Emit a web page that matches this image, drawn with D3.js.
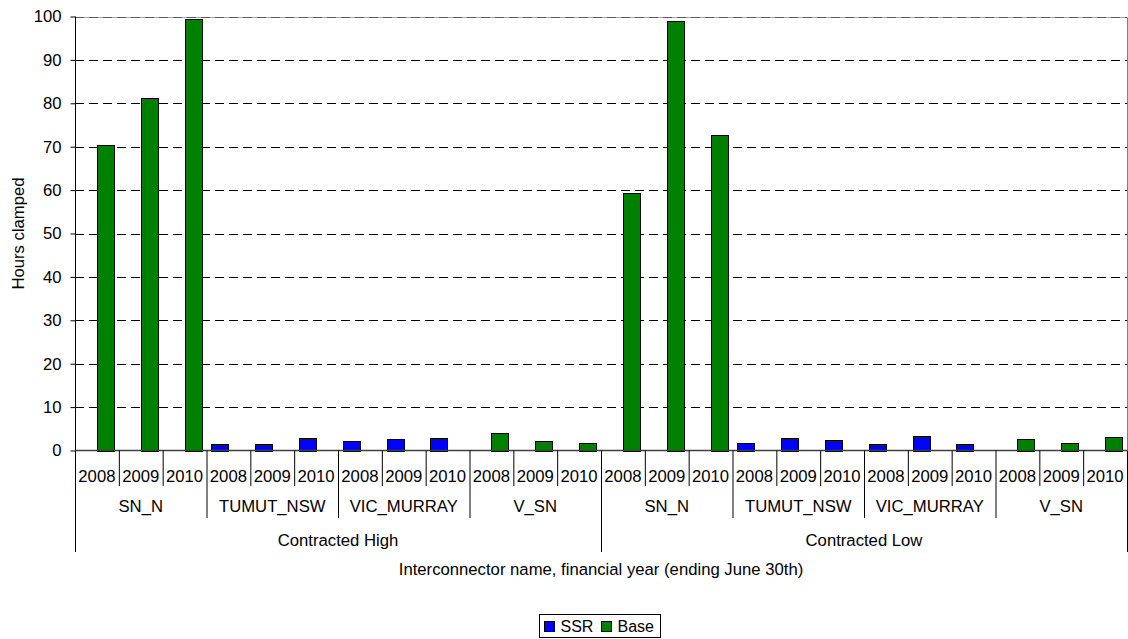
<!DOCTYPE html>
<html>
<head>
<meta charset="utf-8">
<script src="https://cdn.jsdelivr.net/npm/d3@7/dist/d3.min.js"></script>
<style>
  html, body { margin: 0; padding: 0; background: #fff; }
  svg { display: block; font-family: "Liberation Sans", Arial, sans-serif; }
</style>
</head>
<body>
<svg id="chart" width="1128" height="639"></svg>
<script>
// ---- data ----
const scenarios = ["Contracted High", "Contracted Low"];
const interconnectors = ["SN_N", "TUMUT_NSW", "VIC_MURRAY", "V_SN"];
const years = ["2008", "2009", "2010"];
const seriesNames = ["SSR", "Base"];
const ssrValues = [0, 0, 0, 1.5, 1.5, 2.8, 2.2, 2.6, 2.8, 0, 0, 0,
                   0, 0, 0, 1.7, 2.9, 2.5, 1.5, 3.4, 1.5, 0, 0, 0];
const baseValues = [70.4, 81.2, 99.4, 0, 0, 0, 0, 0, 0, 4.0, 2.1, 1.7,
                    59.3, 98.9, 72.6, 0, 0, 0, 0, 0, 0, 2.7, 1.7, 3.2];
const yTicks = [0, 10, 20, 30, 40, 50, 60, 70, 80, 90, 100];
const colors = { SSR: "#0000FF", Base: "#008000" };

// ---- layout ----
const FONT = "'Liberation Sans', Arial, sans-serif";
const FS = 16.7;
const svg = d3.select("#chart");
const plotLeft = 75, plotRight = 1127, plotTop = 16.5, plotBottom = 450.5;

const categories = [];
scenarios.forEach(s => interconnectors.forEach(ic => years.forEach(yr => categories.push({ s, ic, yr }))));
const keys = categories.map((c, i) => i);

const x = d3.scaleBand().domain(keys).range([plotLeft, plotRight]).padding(0);
const x1 = d3.scaleBand().domain(seriesNames).range([0, x.bandwidth()]).paddingInner(0).paddingOuter(0.28);
const y = d3.scaleLinear().domain([0, 100]).range([plotBottom, plotTop]);

// gridlines
svg.append("g").selectAll("line").data(yTicks.filter(t => t > 0)).join("line")
  .attr("x1", plotLeft).attr("x2", plotRight)
  .attr("y1", d => Math.round(y(d)) + 0.5).attr("y2", d => Math.round(y(d)) + 0.5)
  .attr("stroke", "#000").attr("stroke-dasharray", "9,5").attr("stroke-width", 1);

// plot border top/right gray
svg.append("line").attr("x1", plotRight + 0.5).attr("x2", plotRight + 0.5)
  .attr("y1", Math.round(y(100)) + 0.5).attr("y2", plotBottom).attr("stroke", "#808080");
svg.append("line").attr("x1", plotLeft).attr("x2", plotRight)
  .attr("y1", Math.round(y(100)) + 0.5).attr("y2", Math.round(y(100)) + 0.5)
  .attr("stroke", "#808080").attr("stroke-opacity", 0.7);

// bars
const barData = [];
keys.forEach(i => {
  if (ssrValues[i] > 0) barData.push({ i, series: "SSR", v: ssrValues[i] });
  if (baseValues[i] > 0) barData.push({ i, series: "Base", v: baseValues[i] });
});
svg.append("g").selectAll("rect").data(barData).join("rect")
  .attr("x", d => Math.round(x(d.i) + x1(d.series)) + 0.5)
  .attr("y", d => Math.round(y(d.v)) + 0.5)
  .attr("width", d => Math.round(x1.bandwidth()))
  .attr("height", d => Math.round(y(0)) - Math.round(y(d.v)))
  .attr("fill", d => colors[d.series])
  .attr("stroke", "#000").attr("stroke-width", 1);

// y axis
const yAxis = d3.axisLeft(y).tickValues(yTicks).tickSize(5).tickPadding(9).tickFormat(d3.format("d"));
const yg = svg.append("g").attr("transform", `translate(${plotLeft + 0.5},0)`).call(yAxis);
yg.select(".domain").attr("stroke", "#000").attr("d", `M0,${plotTop}V${plotBottom}`);
yg.selectAll(".tick line").attr("stroke", "#000");
yg.selectAll(".tick text").attr("font-size", FS).attr("fill", "#000").attr("font-family", FONT);

// baseline
svg.append("line").attr("x1", plotLeft).attr("x2", plotRight)
  .attr("y1", plotBottom).attr("y2", plotBottom).attr("stroke", "#404040").attr("stroke-width", 1.5);

// multilevel category axis
const axG = svg.append("g").attr("font-size", FS).attr("font-family", FONT).attr("fill", "#000");
const yearTickBottom = 486, icTickBottom = 518, scTickBottom = 552;
axG.selectAll("text.yr").data(categories).join("text")
  .attr("class", "yr")
  .attr("x", (d, i) => x(i) + x.bandwidth() / 2)
  .attr("y", 482)
  .attr("text-anchor", "middle")
  .text(d => d.yr);
const nIC = interconnectors.length, nY = years.length;
const boundaries = d3.range(0, categories.length + 1);
svg.append("g").selectAll("line").data(boundaries).join("line")
  .attr("x1", i => (i === categories.length ? plotRight : x(i)) + 0.5)
  .attr("x2", i => (i === categories.length ? plotRight : x(i)) + 0.5)
  .attr("y1", plotBottom)
  .attr("y2", i => (i % (nIC * nY) === 0) ? scTickBottom : (i % nY === 0 ? icTickBottom : yearTickBottom))
  .attr("stroke", "#000").attr("stroke-width", 1);
const icGroups = [];
scenarios.forEach((s, si) => interconnectors.forEach((ic, ii) => icGroups.push({ name: ic, start: (si * nIC + ii) * nY })));
axG.selectAll("text.ic").data(icGroups).join("text")
  .attr("class", "ic")
  .attr("x", d => (x(d.start) + x(d.start + nY - 1) + x.bandwidth()) / 2)
  .attr("y", 512)
  .attr("text-anchor", "middle")
  .text(d => d.name);
axG.selectAll("text.sc").data(scenarios).join("text")
  .attr("class", "sc")
  .attr("x", (d, si) => (x(si * nIC * nY) + x(si * nIC * nY + nIC * nY - 1) + x.bandwidth()) / 2)
  .attr("y", 546)
  .attr("text-anchor", "middle")
  .text(d => d);

// axis titles
svg.append("text").attr("x", (plotLeft + plotRight) / 2).attr("y", 575)
  .attr("text-anchor", "middle").attr("font-size", FS).attr("font-family", FONT)
  .text("Interconnector name, financial year (ending June 30th)");
svg.append("text").attr("transform", `translate(24,${(plotTop + plotBottom) / 2}) rotate(-90)`)
  .attr("text-anchor", "middle").attr("font-size", FS).attr("font-family", FONT).text("Hours clamped");

// legend
const lg = svg.append("g").attr("transform", "translate(539.5,614.5)");
lg.append("rect").attr("width", 121).attr("height", 23).attr("fill", "#fff").attr("stroke", "#000");
const items = [{ name: "SSR", x: 5 }, { name: "Base", x: 62 }];
items.forEach(it => {
  lg.append("rect").attr("x", it.x).attr("y", 7).attr("width", 10).attr("height", 10)
    .attr("fill", colors[it.name]).attr("stroke", "#000");
  lg.append("text").attr("x", it.x + 16).attr("y", 17.5).attr("font-size", 16).attr("font-family", FONT).text(it.name);
});
</script>
</body>
</html>
